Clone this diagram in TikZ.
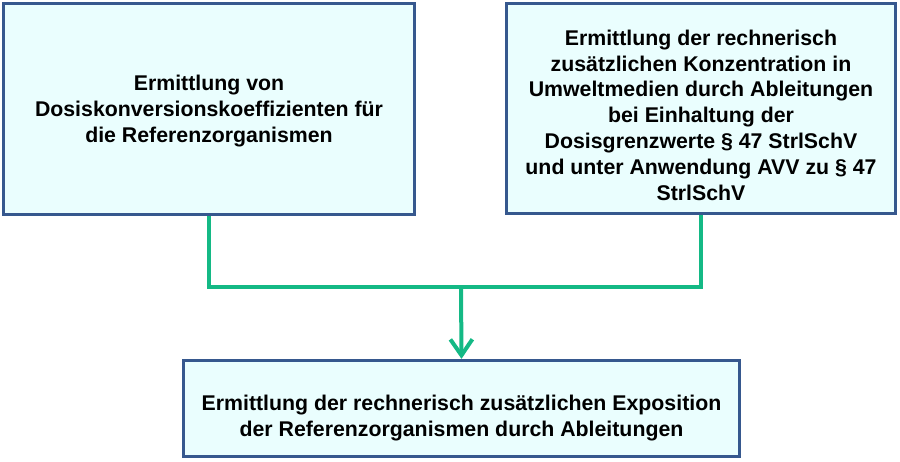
\documentclass[tikz,border=0pt]{standalone}
\usepackage{fontspec}
\setmainfont{Liberation Sans}
\usetikzlibrary{arrows.meta}
\definecolor{boxblue}{HTML}{36588E}
\definecolor{boxfill}{HTML}{EAFEFE}
\definecolor{linkgreen}{HTML}{14B985}
\tikzset{
  box/.style={draw=boxblue, line width=3.3pt, fill=boxfill, inner sep=0pt},
  txt/.style={font=\bfseries\fontsize{21.3}{25.8}\selectfont, align=center, inner sep=0pt, text=black},
  link/.style={draw=linkgreen, line width=4pt},
}
\begin{document}
\begin{tikzpicture}[x=1pt,y=1pt]
\useasboundingbox (0,0) rectangle (900,461);
\node[box, minimum width=411pt, minimum height=211pt] (L) at (209,352) {};
\node[box, minimum width=389pt, minimum height=210pt] (R) at (701,352.5) {};
\node[box, minimum width=556pt, minimum height=96pt] (B) at (461.5,52.5) {};
\node[txt] (Lt) at (209,350.2) {Ermittlung von\\Dosiskonversionskoeffizienten für\\die Referenzorganismen};
\node[txt] (Rt) at (701,346) {Ermittlung der rechnerisch\\zusätzlichen Konzentration in\\Umweltmedien durch Ableitungen\\bei Einhaltung der\\Dosisgrenzwerte § 47 StrlSchV\\und unter Anwendung AVV zu § 47\\StrlSchV};
\node[txt] (Bt) at (461.5,43) {Ermittlung der rechnerisch zusätzlichen Exposition\\der Referenzorganismen durch Ableitungen};
\coordinate (J) at (461,174);
\draw[link] (L.south) |- (J) -| (R.south);
\draw[link, -{Straight Barb[length=16pt,width=22pt]}] (J) -- (B.north);
\end{tikzpicture}
\end{document}
